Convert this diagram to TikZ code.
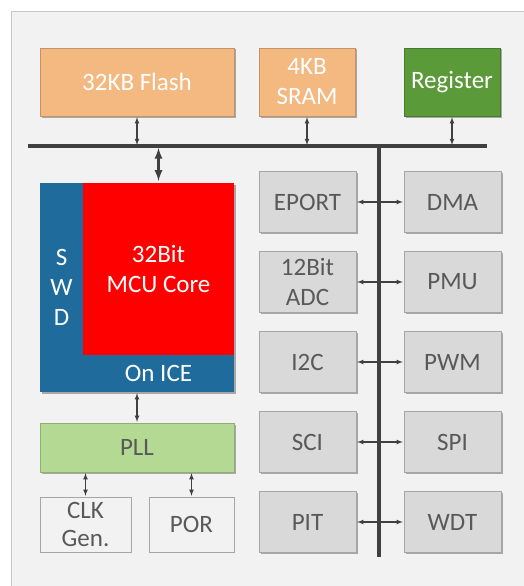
\documentclass[tikz,border=0pt]{standalone}
\usepackage{fontspec}
\setmainfont{Carlito}
\usepackage{tikz}
\usetikzlibrary{arrows,shapes,positioning,shadows}

\definecolor{panelbg}{HTML}{F2F2F2}
\definecolor{panelline}{HTML}{C8C8C8}
\definecolor{memc}{HTML}{F4B881}
\definecolor{regc}{HTML}{5A9A38}
\definecolor{pllc}{HTML}{B3D993}
\definecolor{corec}{HTML}{FF0000}
\definecolor{icec}{HTML}{1F6B9C}
\definecolor{perc}{HTML}{D9D9D9}
\definecolor{perline}{HTML}{A6A6A6}
\definecolor{txtc}{HTML}{595959}
\definecolor{linkc}{HTML}{404040}

\begin{document}
\begin{tikzpicture}
			[x=1pt, y=-1pt,
			blk/.style={rectangle, inner sep=0pt, align=center, font=\fontsize{25}{30}\selectfont,
				drop shadow={shadow xshift=1.5pt, shadow yshift=-1.5pt, fill=black, opacity=.3}},
			mem/.style={blk, fill=memc, draw=memc!80!black, text=white, minimum height=68pt},
			periph/.style={blk, fill=perc, draw=perline, text=txtc, minimum width=97pt, minimum height=61pt},
			clkbox/.style={rectangle, inner sep=0pt, align=center, font=\fontsize{25}{28}\selectfont,
				fill=panelbg, draw=perline, text=txtc, minimum height=55pt},
			bus/.style={line width=4pt, draw=linkc},
			link/.style={<->, >=latex, line width=1.1pt, draw=linkc, shorten >=1pt, shorten <=1pt},
			] 
          	\useasboundingbox (0,0) rectangle (524,586);
          	\filldraw[fill=panelbg, draw=panelline] (11,11) rectangle (540,600);

          	% memories and register
          	\node[mem, minimum width=194pt] (flash) at (137, 82) {32KB Flash}; 
          	\node[mem, minimum width=96pt] (sram) at (307, 82) {4KB\\SRAM}; 
          	\node[mem, minimum width=96pt, fill=regc, draw=regc!80!black] (reg) at (452, 82) {Register}; 

          	% bus
          	\coordinate (busW) at (28, 146);
          	\coordinate (busE) at (487, 146);
          	\coordinate (busS) at (379, 557);
          	\draw[bus] (busW) -- (busE);
          	\draw[bus] (busE -| busS) -- (busS);

          	% core
          	\node[blk, fill=icec, text=white, minimum width=43pt, minimum height=209pt] (swd) at (61.5, 287.5) {S\\W\\D}; 
          	\node[blk, fill=corec, text=white, minimum width=151pt, minimum height=172pt] (mcu) at (158.5, 269) {32Bit\\MCU Core}; 
          	\node[blk, fill=icec, text=white, minimum width=151pt, minimum height=37pt] (ice) at (158.5, 373.5) {On ICE}; 

          	% clock
          	\node[blk, fill=pllc, draw=pllc!80!black, text=txtc, minimum width=194pt, minimum height=49pt] (pll) at (137, 447.5) {PLL}; 
          	\node[clkbox, minimum width=91pt] (clk) at (85.5, 524.5) {CLK\\Gen.}; 
          	\node[clkbox, minimum width=85pt] (por) at (191.5, 524.5) {POR}; 

          	% peripherals
          	\foreach \l/\r/\n [count=\i from 0] in {EPORT/DMA/a, 12Bit\\ADC/PMU/b, I2C/PWM/c, SCI/SPI/d, PIT/WDT/e} {
          		\node[periph] (L\n) at (307.5, 202+80*\i) {\l}; 
          		\node[periph] (R\n) at (452.5, 202+80*\i) {\r}; 
          		\draw[link] (L\n) -- (R\n); 
          	}

          	\draw[link] (flash) -- (flash |- busW); 
          	\draw[link] (sram) -- (sram |- busW); 
          	\draw[link] (reg) -- (reg |- busW); 
          	\draw[link, line width=2.6pt, shorten >=2pt, shorten <=2pt] (mcu) -- (mcu |- busW); 
          	\draw[link] (pll) -- (pll |- ice.south); 
          	\draw[link] (clk) -- (clk |- pll.south); 
          	\draw[link] (por) -- (por |- pll.south); 
			\end{tikzpicture}
\end{document}
